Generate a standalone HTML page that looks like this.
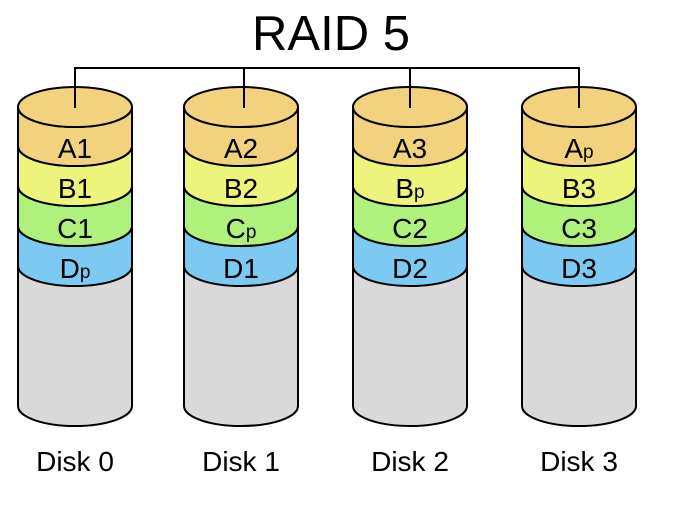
<!DOCTYPE html>
<html><head><meta charset="utf-8"><style>
html,body{margin:0;padding:0;background:#fff;}
svg{display:block;}
text{font-family:"Liberation Sans",sans-serif;fill:#000;}
</style></head><body>
<svg width="697" height="507" viewBox="0 0 697 507" xmlns="http://www.w3.org/2000/svg">
<defs>
<g id="cyl" stroke="#000" stroke-width="2">
<path d="M-57,266 L-57,406 A57,20 0 0 0 57,406 L57,266 Z" fill="#d9d9d9"/>
<path d="M-57,226 L-57,266 A57,20 0 0 0 57,266 L57,226 A57,20 0 0 1 -57,226 Z" fill="#7ccaf2"/>
<path d="M-57,186 L-57,226 A57,20 0 0 0 57,226 L57,186 A57,20 0 0 1 -57,186 Z" fill="#aef27c"/>
<path d="M-57,146 L-57,186 A57,20 0 0 0 57,186 L57,146 A57,20 0 0 1 -57,146 Z" fill="#edf47c"/>
<path d="M-57,107 L-57,146 A57,20 0 0 0 57,146 L57,107 A57,20 0 0 1 -57,107 Z" fill="#f2d27c"/>
<ellipse cx="0" cy="107" rx="57" ry="20" fill="#f2d27c"/>
</g>
</defs>
<text x="331" y="50" font-size="49" text-anchor="middle">RAID 5</text>
<use href="#cyl" x="75"/>
<use href="#cyl" x="241"/>
<use href="#cyl" x="410"/>
<use href="#cyl" x="579"/>
<path d="M75,108 V68 H579 V108 M244,68 V108 M410,68 V108" fill="none" stroke="#000" stroke-width="2"/>
<g font-size="28" text-anchor="middle">
<text x="75" y="158">A1</text><text x="75" y="198">B1</text><text x="75" y="238">C1</text><text x="75" y="278">D<tspan font-size="19">p</tspan></text>
<text x="241" y="158">A2</text><text x="241" y="198">B2</text><text x="241" y="238">C<tspan font-size="19">p</tspan></text><text x="241" y="278">D1</text>
<text x="410" y="158">A3</text><text x="410" y="198">B<tspan font-size="19">p</tspan></text><text x="410" y="238">C2</text><text x="410" y="278">D2</text>
<text x="579" y="158">A<tspan font-size="19">p</tspan></text><text x="579" y="198">B3</text><text x="579" y="238">C3</text><text x="579" y="278">D3</text>
<text x="75" y="471">Disk 0</text><text x="241" y="471">Disk 1</text><text x="410" y="471">Disk 2</text><text x="579" y="471">Disk 3</text>
</g>
</svg>
</body></html>
